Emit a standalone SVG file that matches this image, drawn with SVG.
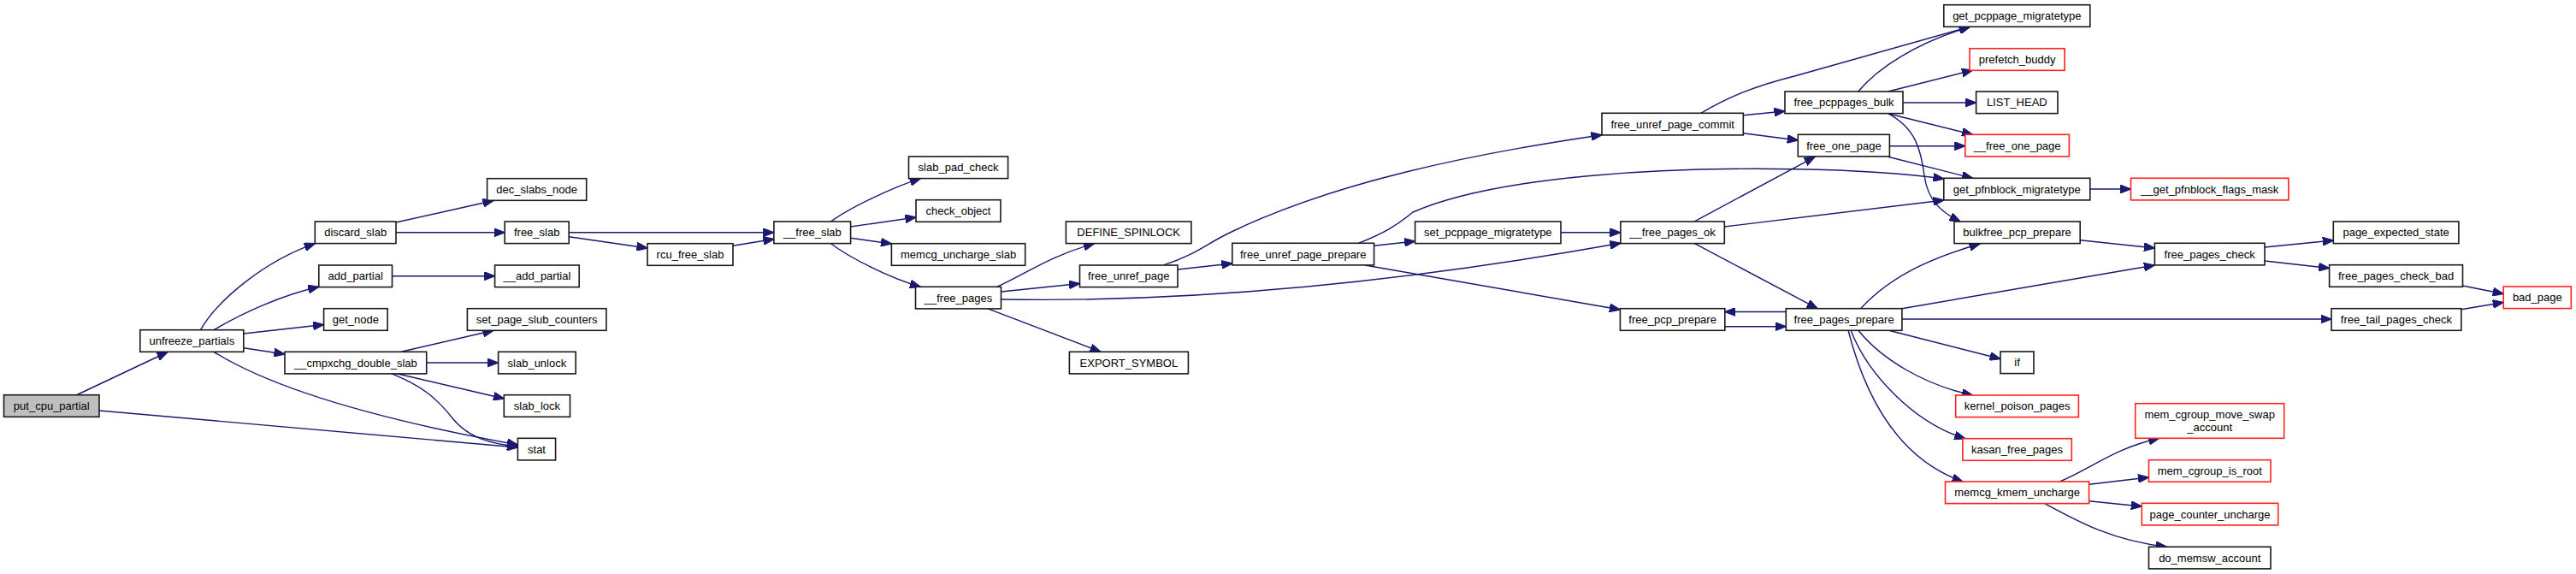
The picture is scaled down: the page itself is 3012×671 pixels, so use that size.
<svg xmlns="http://www.w3.org/2000/svg" width="3012" height="671" viewBox="0 0 3012 671">
<style>
.n rect{fill:#fff;stroke:#1a1a1a;stroke-width:1.6}
.n.r rect{stroke:#ff2020}
.n.root rect{fill:#bfbfbf}
.n text{font-family:"Liberation Sans",Arial,sans-serif;font-size:13px;fill:#000;text-anchor:middle}
#edges path{fill:none;stroke:#191970;stroke-width:1.4;marker-end:url(#ah)}
</style>
<defs>
<marker id="ah" markerWidth="13" markerHeight="10" refX="12.5" refY="5" orient="auto" markerUnits="userSpaceOnUse">
<path d="M0,0 L13,5 L0,10 z" fill="#191970" stroke="#191970" stroke-width="1"/>
</marker>
</defs>
<rect width="3012" height="671" fill="#fff"/>
<g id="edges">
<path d="M89,462 L196,411.5"/>
<path d="M116,480 L605.4,523"/>
<path d="M234.4,385.7 C255,350 310,305 368.3,284.7"/>
<path d="M250,385.7 C285,365 330,345 372.8,335.3"/>
<path d="M284.8,390 L378.6,379.5"/>
<path d="M284.8,406.7 L333,414"/>
<path d="M250,411.3 C320,455 440,490 605.4,520"/>
<path d="M463,260 L577,234.5"/>
<path d="M463,271.8 L590.2,271.8"/>
<path d="M458.5,322.7 L578.6,322.7"/>
<path d="M469,411.3 L577,386.3"/>
<path d="M498.7,424 L582.6,424"/>
<path d="M464,436.7 L589.3,466"/>
<path d="M457.6,436.7 C495,452 510,465 530,490 C548,512 575,519 605.4,522"/>
<path d="M665.2,271.8 L904.9,271.8"/>
<path d="M665.2,276.7 L757,290"/>
<path d="M857,287.3 L904.9,279.5"/>
<path d="M971.4,259 C995,242 1044,219 1076.3,208.7"/>
<path d="M994.6,265 L1071,254"/>
<path d="M994.6,278.3 L1042.4,285"/>
<path d="M971.4,284.7 C995,302 1040,325 1076.3,335.3"/>
<path d="M1165.6,335.3 C1200,320 1225,300 1279.5,284.7"/>
<path d="M1170.5,341 L1262.5,331.5"/>
<path d="M1154.5,360.7 L1287,411.3"/>
<path d="M1170.5,350 C1400,354 1650,328 1894.9,284.3"/>
<path d="M1361.2,309.7 C1400,297 1410,285 1440,271 C1560,213 1720,180 1873,157.7"/>
<path d="M1377,315 L1440.8,308"/>
<path d="M1606.6,287.3 L1654.6,282"/>
<path d="M1588.3,284.3 C1620,272 1635,262 1652,248 C1750,205 1950,195 2100,197.7 C2180,199 2230,203 2272.8,209"/>
<path d="M1596,310 L1894.4,362"/>
<path d="M1825,271.8 L1894.9,271.8"/>
<path d="M1981,259 L2122,183.3"/>
<path d="M2016.3,265 L2272.8,234"/>
<path d="M1981,284.3 L2125,360.7"/>
<path d="M1988.8,132.3 C2020,114 2050,101 2100,88.5 L2303,31.3"/>
<path d="M2038.3,134.7 L2087,130"/>
<path d="M2038.3,155.7 L2102.3,164"/>
<path d="M2172.7,107 C2195,80 2240,50 2303.6,31.3"/>
<path d="M2207.6,107 L2306.5,82"/>
<path d="M2225,120 L2310.6,120"/>
<path d="M2207.6,132.7 L2306.5,157.3"/>
<path d="M2207.6,132.7 C2240,150 2246,175 2250,205 C2254,235 2270,248 2292,259"/>
<path d="M2209.4,170.7 L2297.8,170.7"/>
<path d="M2207.6,183.3 L2306.5,208.3"/>
<path d="M2175.6,360.7 C2215,318 2270,298 2315,285"/>
<path d="M2432.2,280.7 L2519.4,290"/>
<path d="M2223.9,360.7 L2519.4,310"/>
<path d="M2088.3,364.5 L2016.8,364.5"/>
<path d="M2016.8,381.7 L2088.3,381.7"/>
<path d="M2223.9,373 L2726,373"/>
<path d="M2207.6,386 L2339,419.5"/>
<path d="M2172.7,386 C2200,420 2250,450 2306.5,462"/>
<path d="M2164,386 C2185,440 2240,495 2297.8,512.7"/>
<path d="M2161,386 C2185,480 2230,540 2295,563"/>
<path d="M2648,289 L2728.3,281"/>
<path d="M2648,305 L2723.6,313.5"/>
<path d="M2879.5,334 L2927.2,343.5"/>
<path d="M2877.8,361.7 L2927.2,353.5"/>
<path d="M2408.3,563 C2450,545 2470,525 2524.7,512.3"/>
<path d="M2442.6,566.3 L2512.5,558"/>
<path d="M2442.6,585.7 L2504.3,592"/>
<path d="M2390.9,588.7 C2430,610 2470,632 2533.4,639.3"/>
<path d="M2443.8,221 L2491.5,221"/>
</g>
<g id="put_cpu_partial" class="n root"><rect x="4.5" y="461.7" width="111.5" height="25.6"/><text x="60.3" y="479">put_cpu_partial</text></g>
<g id="unfreeze_partials" class="n"><rect x="163.8" y="385.7" width="121" height="25.6"/><text x="224.3" y="403">unfreeze_partials</text></g>
<g id="discard_slab" class="n"><rect x="368.3" y="259" width="94.7" height="25.6"/><text x="415.7" y="276.3">discard_slab</text></g>
<g id="add_partial" class="n"><rect x="372.8" y="310" width="85.7" height="25.6"/><text x="415.7" y="327.3">add_partial</text></g>
<g id="get_node" class="n"><rect x="378.6" y="360.7" width="74.5" height="25.6"/><text x="415.9" y="378">get_node</text></g>
<g id="cmpxchg_double_slab" class="n"><rect x="333" y="411.3" width="165.7" height="25.6"/><text x="415.9" y="428.6">__cmpxchg_double_slab</text></g>
<g id="stat" class="n"><rect x="605.4" y="512.3" width="44.2" height="25.6"/><text x="627.5" y="529.6">stat</text></g>
<g id="dec_slabs_node" class="n"><rect x="569.6" y="208.7" width="116.1" height="25.6"/><text x="627.7" y="226">dec_slabs_node</text></g>
<g id="free_slab" class="n"><rect x="590.2" y="259" width="75" height="25.6"/><text x="627.7" y="276.3">free_slab</text></g>
<g id="add_partial2" class="n"><rect x="578.6" y="310" width="98.6" height="25.6"/><text x="627.9" y="327.3">__add_partial</text></g>
<g id="set_page_slub_counters" class="n"><rect x="546.4" y="360.7" width="162.5" height="25.6"/><text x="627.7" y="378">set_page_slub_counters</text></g>
<g id="slab_unlock" class="n"><rect x="582.6" y="411.3" width="90.6" height="25.6"/><text x="627.9" y="428.6">slab_unlock</text></g>
<g id="slab_lock" class="n"><rect x="589.3" y="461.7" width="77.2" height="25.6"/><text x="627.9" y="479">slab_lock</text></g>
<g id="rcu_free_slab" class="n"><rect x="757" y="284.7" width="100" height="25.6"/><text x="807" y="302">rcu_free_slab</text></g>
<g id="free_slab2" class="n"><rect x="904.9" y="259" width="89.7" height="25.6"/><text x="949.8" y="276.3">__free_slab</text></g>
<g id="slab_pad_check" class="n"><rect x="1062.5" y="183" width="116.1" height="25.6"/><text x="1120.6" y="200.3">slab_pad_check</text></g>
<g id="check_object" class="n"><rect x="1071" y="233.7" width="99" height="25.6"/><text x="1120.5" y="251">check_object</text></g>
<g id="memcg_uncharge_slab" class="n"><rect x="1042.4" y="284.7" width="156.3" height="25.6"/><text x="1120.6" y="302">memcg_uncharge_slab</text></g>
<g id="free_pages2" class="n"><rect x="1070.5" y="335.3" width="100" height="25.6"/><text x="1120.5" y="352.6">__free_pages</text></g>
<g id="DEFINE_SPINLOCK" class="n"><rect x="1246.4" y="259" width="146.5" height="25.6"/><text x="1319.7" y="276.3">DEFINE_SPINLOCK</text></g>
<g id="free_unref_page" class="n"><rect x="1262.5" y="310" width="114.5" height="25.6"/><text x="1319.8" y="327.3">free_unref_page</text></g>
<g id="EXPORT_SYMBOL" class="n"><rect x="1250.4" y="411.3" width="139" height="25.6"/><text x="1319.9" y="428.6">EXPORT_SYMBOL</text></g>
<g id="free_unref_page_prepare" class="n"><rect x="1440.8" y="284.3" width="165.8" height="25.6"/><text x="1523.7" y="301.6">free_unref_page_prepare</text></g>
<g id="set_pcppage_migratetype" class="n"><rect x="1654.6" y="259" width="170.4" height="25.6"/><text x="1739.8" y="276.3">set_pcppage_migratetype</text></g>
<g id="free_unref_page_commit" class="n"><rect x="1873" y="132.3" width="165.3" height="25.6"/><text x="1955.7" y="149.6">free_unref_page_commit</text></g>
<g id="free_pages_ok" class="n"><rect x="1894.9" y="259" width="121.4" height="25.6"/><text x="1955.6" y="276.3">__free_pages_ok</text></g>
<g id="free_pcp_prepare" class="n"><rect x="1894.4" y="360.7" width="122.4" height="25.6"/><text x="1955.6" y="378">free_pcp_prepare</text></g>
<g id="free_pcppages_bulk" class="n"><rect x="2087" y="107" width="138" height="25.6"/><text x="2156" y="124.3">free_pcppages_bulk</text></g>
<g id="free_one_page" class="n"><rect x="2102.3" y="157.3" width="107.1" height="25.6"/><text x="2155.9" y="174.6">free_one_page</text></g>
<g id="free_pages_prepare" class="n"><rect x="2088.3" y="360.7" width="135.6" height="25.6"/><text x="2156.1" y="378">free_pages_prepare</text></g>
<g id="get_pcppage_migratetype" class="n"><rect x="2272.8" y="5.7" width="171" height="25.6"/><text x="2358.3" y="23">get_pcppage_migratetype</text></g>
<g id="prefetch_buddy" class="n r"><rect x="2303" y="56.7" width="111.1" height="25.6"/><text x="2358.6" y="74">prefetch_buddy</text></g>
<g id="LIST_HEAD" class="n"><rect x="2310.6" y="107" width="95.4" height="25.6"/><text x="2358.3" y="124.3">LIST_HEAD</text></g>
<g id="free_one_page2" class="n r"><rect x="2297.8" y="157.3" width="121.6" height="25.6"/><text x="2358.6" y="174.6">__free_one_page</text></g>
<g id="get_pfnblock_migratetype" class="n"><rect x="2272.8" y="208.3" width="171" height="25.6"/><text x="2358.3" y="225.6">get_pfnblock_migratetype</text></g>
<g id="get_pfnblock_flags_mask" class="n r"><rect x="2491.5" y="208.3" width="184.4" height="25.6"/><text x="2583.7" y="225.6">__get_pfnblock_flags_mask</text></g>
<g id="bulkfree_pcp_prepare" class="n"><rect x="2285" y="259" width="147.2" height="25.6"/><text x="2358.6" y="276.3">bulkfree_pcp_prepare</text></g>
<g id="free_pages_check" class="n"><rect x="2519.4" y="284.3" width="128.6" height="25.6"/><text x="2583.7" y="301.6">free_pages_check</text></g>
<g id="page_expected_state" class="n"><rect x="2728.3" y="259" width="146.6" height="25.6"/><text x="2801.6" y="276.3">page_expected_state</text></g>
<g id="free_pages_check_bad" class="n"><rect x="2723.6" y="309.7" width="155.9" height="25.6"/><text x="2801.6" y="327">free_pages_check_bad</text></g>
<g id="bad_page" class="n r"><rect x="2927.2" y="335" width="79.1" height="25.6"/><text x="2966.8" y="352.3">bad_page</text></g>
<g id="free_tail_pages_check" class="n"><rect x="2726" y="360.7" width="151.8" height="25.6"/><text x="2801.9" y="378">free_tail_pages_check</text></g>
<g id="if" class="n"><rect x="2339" y="411" width="39" height="25.6"/><text x="2358.5" y="428.3">if</text></g>
<g id="kernel_poison_pages" class="n r"><rect x="2286.7" y="462" width="143.7" height="25.6"/><text x="2358.6" y="479.3">kernel_poison_pages</text></g>
<g id="kasan_free_pages" class="n r"><rect x="2294.9" y="512.7" width="127.4" height="25.6"/><text x="2358.6" y="530">kasan_free_pages</text></g>
<g id="memcg_kmem_uncharge" class="n r"><rect x="2274.5" y="563" width="168.1" height="25.6"/><text x="2358.6" y="580.3">memcg_kmem_uncharge</text></g>
<g id="mem_cgroup_move_swap_account" class="n r"><rect x="2496.7" y="471.7" width="174" height="40.6"/><text x="2583.7" y="488.5">mem_cgroup_move_swap</text><text x="2583.7" y="503.5">_account</text></g>
<g id="mem_cgroup_is_root" class="n r"><rect x="2512.5" y="537.7" width="142.5" height="25.6"/><text x="2583.75" y="555">mem_cgroup_is_root</text></g>
<g id="page_counter_uncharge" class="n r"><rect x="2504.3" y="588.3" width="159.4" height="25.6"/><text x="2584" y="605.6">page_counter_uncharge</text></g>
<g id="do_memsw_account" class="n"><rect x="2512.5" y="639.3" width="142.5" height="25.6"/><text x="2583.75" y="656.6">do_memsw_account</text></g>
</svg>
